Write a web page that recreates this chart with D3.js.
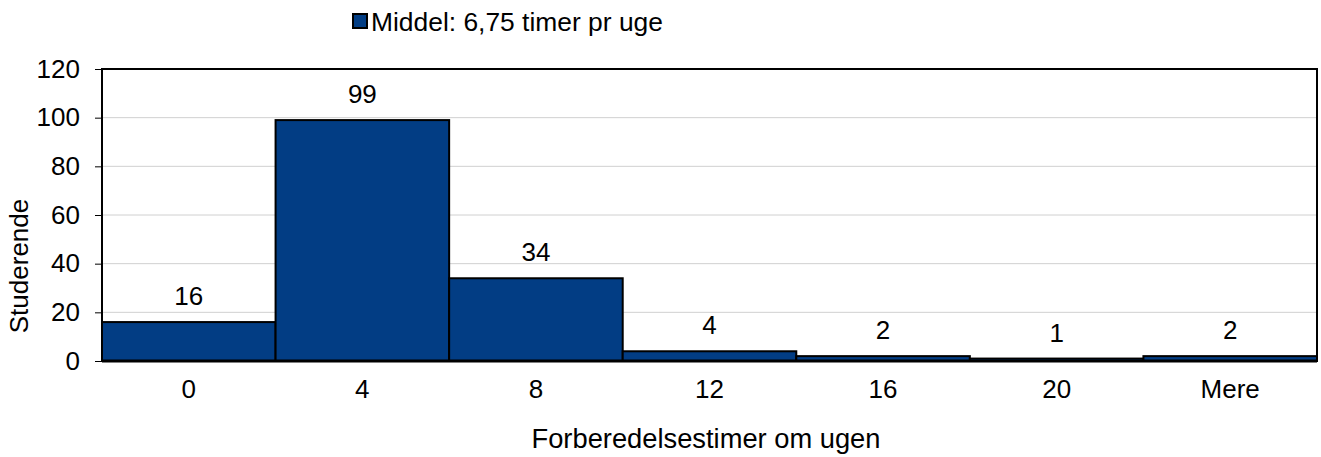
<!DOCTYPE html>
<html lang="en">
<head>
<meta charset="utf-8">
<title>Forberedelsestimer</title>
<script src="https://cdn.jsdelivr.net/npm/d3@7"></script>
<style>
body { margin: 0; background: #fff; }
text { font-family: "Liberation Sans", Arial, sans-serif; fill: #000; }
</style>
</head>
<body>
<div id="chart"></div>
<script>
var categories = ["0", "4", "8", "12", "16", "20", "Mere"];
var values = [16, 99, 34, 4, 2, 1, 2];
var yTicks = [0, 20, 40, 60, 80, 100, 120];
var legendLabel = "Middel: 6,75 timer pr uge";
var xTitle = "Forberedelsestimer om ugen";
var yTitle = "Studerende";

var W = 1321, H = 457;
var fs = 26;
var margin = {top: 69, right: 4, bottom: 96, left: 102};
var width = W - margin.left - margin.right,
    height = H - margin.top - margin.bottom;

var svg = d3.select("#chart").append("svg")
    .attr("width", W).attr("height", H);

var g = svg.append("g").attr("transform", "translate(" + margin.left + "," + margin.top + ")");

var x = d3.scaleBand().domain(categories).range([0, width]).padding(0);
var y = d3.scaleLinear().domain([0, 120]).range([height, 0]);

// gridlines
g.selectAll(".grid").data(yTicks.filter(function(d) { return d > 0 && d < 120; }))
  .enter().append("line")
    .attr("x1", 0).attr("x2", width)
    .attr("y1", function(d) { return y(d); })
    .attr("y2", function(d) { return y(d); })
    .attr("stroke", "#d0d0d0").attr("stroke-width", 1);

// bars
g.selectAll(".bar").data(values).enter().append("rect")
    .attr("x", function(d, i) { return x(categories[i]); })
    .attr("y", function(d) { return y(d); })
    .attr("width", x.bandwidth())
    .attr("height", function(d) { return height - y(d); })
    .attr("fill", "#023d84")
    .attr("stroke", "#000").attr("stroke-width", 2);

// value labels
g.selectAll(".val").data(values).enter().append("text")
    .attr("x", function(d, i) { return x(categories[i]) + x.bandwidth() / 2; })
    .attr("y", function(d) { return y(d) - 17; })
    .attr("text-anchor", "middle")
    .attr("font-size", fs)
    .text(function(d) { return d; });

// frame
g.append("rect")
    .attr("x", 0).attr("y", 0).attr("width", width).attr("height", height)
    .attr("fill", "none").attr("stroke", "#000").attr("stroke-width", 2);
g.append("line")
    .attr("x1", 0).attr("x2", width).attr("y1", height).attr("y2", height)
    .attr("stroke", "#000").attr("stroke-width", 3);

// y axis
var yAxis = g.append("g")
    .call(d3.axisLeft(y).tickValues(yTicks).tickSize(7).tickPadding(15));
yAxis.select(".domain").remove();
yAxis.selectAll("line").attr("stroke", "#000");
yAxis.selectAll("text").attr("font-size", fs).attr("font-family", "Liberation Sans, Arial, sans-serif").attr("fill", "#000");

// x axis
var xAxis = g.append("g")
    .attr("transform", "translate(0," + height + ")")
    .call(d3.axisBottom(x).tickSize(0).tickPadding(19));
xAxis.select(".domain").remove();
xAxis.selectAll("text").attr("font-size", fs).attr("font-family", "Liberation Sans, Arial, sans-serif").attr("fill", "#000");

// axis titles
svg.append("text")
    .attr("x", 706).attr("y", 448)
    .attr("text-anchor", "middle").attr("font-size", 27.3)
    .text(xTitle);
svg.append("text")
    .attr("transform", "translate(28,266) rotate(-90)")
    .attr("text-anchor", "middle").attr("font-size", fs)
    .text(yTitle);

// legend
svg.append("rect")
    .attr("x", 353).attr("y", 14).attr("width", 14).attr("height", 14)
    .attr("fill", "#023d84").attr("stroke", "#000").attr("stroke-width", 2);
svg.append("text")
    .attr("x", 371).attr("y", 31).attr("font-size", 26.4)
    .text(legendLabel);
</script>
</body>
</html>
